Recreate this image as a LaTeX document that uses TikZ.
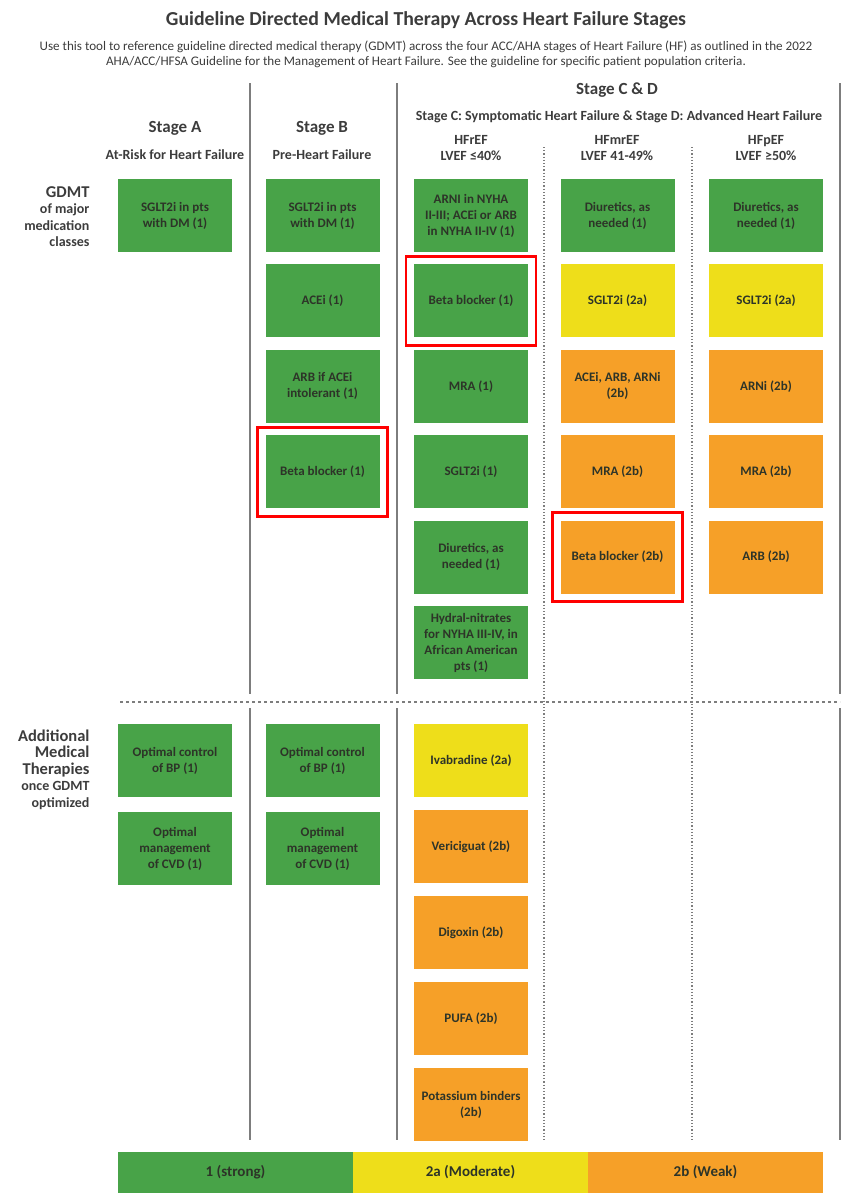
\documentclass[tikz,border=0pt]{standalone}
\usepackage{fontspec}
\setmainfont{Carlito}
\usetikzlibrary{positioning,fit}

\definecolor{strong}{RGB}{72,163,72}
\definecolor{moderate}{RGB}{238,222,26}
\definecolor{weak}{RGB}{246,160,40}
\definecolor{ink}{RGB}{45,52,40}
\definecolor{rulegray}{RGB}{125,125,125}
\definecolor{headgray}{RGB}{60,60,60}

\begin{document}
\begin{tikzpicture}[x=1pt,y=-1pt,
        box/.style={minimum width=114pt,minimum height=73pt,inner sep=0pt,
            outer sep=0pt,align=center,text=ink,
            font=\fontsize{13}{16}\selectfont\bfseries},
        one/.style={box,fill=strong},
        twoa/.style={box,fill=moderate},
        twob/.style={box,fill=weak},
        hl/.style={draw=red,line width=2.6pt,inner sep=8pt},
        stage/.style={text=headgray,font=\fontsize{17}{20}\selectfont\bfseries},
        sub/.style={text=headgray,align=center,
            font=\fontsize{14}{16}\selectfont\bfseries},
        rowlab/.style={text=headgray,align=right,anchor=north east,
            font=\fontsize{14}{16.5}\selectfont\bfseries},
        legend/.style={minimum width=235pt,minimum height=41pt,inner sep=0pt,
            outer sep=0pt,text=ink,font=\fontsize{15}{17}\selectfont\bfseries},
        sep/.style={rulegray,line width=1.4pt},
        colsep/.style={rulegray,line width=1.2pt,dotted},
        rowsep/.style={rulegray,line width=1.2pt,dash pattern=on 3pt off 3pt}]

        \useasboundingbox (0,0) rectangle (848,1200);

        \def\d{12.4pt}
        \def\dd{13pt}

        % Title and intro
        \node[text=headgray,font=\fontsize{19.8}{23}\selectfont\bfseries] (title)
            at (426,20) {Guideline Directed Medical Therapy Across Heart Failure Stages};
        \node[text=headgray,align=center,font=\fontsize{13.1}{15.5}\selectfont] (intro)
            at (426,54.5) {Use this tool to reference guideline directed medical therapy (GDMT) across the four ACC/AHA stages of Heart Failure (HF) as outlined in the 2022\\
            AHA/ACC/HFSA Guideline for the Management of Heart Failure. See the guideline for specific patient population criteria.};

        % Column heads
        \node[stage] (SA) at (175,128) {Stage A};
        \node[sub] (SAt) at (175,155) {At-Risk for Heart Failure};
        \node[stage] (SB) at (322,128) {Stage B};
        \node[sub] (SBt) at (322,155) {Pre-Heart Failure};
        \node[stage] (SCD) at (617,90) {Stage C \& D};
        \node[sub] (SCDt) at (619,117)
            {Stage C: Symptomatic Heart Failure \& Stage D: Advanced Heart Failure};
        \node[sub] (HR) at (471,148) {HFrEF\\LVEF \char"2264 40\%};
        \node[sub] (HM) at (617,148) {HFmrEF\\LVEF 41-49\%};
        \node[sub] (HP) at (766,148) {HFpEF\\LVEF \char"2265 50\%};

        % Row heads
        \node[rowlab] (R1) at (93,183)
            {{\fontsize{16.5}{18}\selectfont GDMT}\\of major\\medication\\classes};
        \node[rowlab] (R2) at (93,726)
            {{\fontsize{16.5}{20}\selectfont Additional}\\{\fontsize{16.5}{20}\selectfont Medical}\\
            {\fontsize{16.5}{20}\selectfont Therapies}\\once GDMT\\optimized};

        % GDMT boxes
        \node[one] (A1) at (175,215.5) {SGLT2i in pts\\with DM (1)};

        \node[one] (B1) at (322.5,215.5) {SGLT2i in pts\\with DM (1)};
        \node[one] (B2) [below=\d of B1] {ACEi (1)};
        \node[one] (B3) [below=\d of B2] {ARB if ACEi\\intolerant (1)};
        \node[one] (B4) [below=\d of B3] {Beta blocker (1)};

        \node[one] (C1) at (471,215.5) {ARNI in NYHA\\II-III; ACEi or ARB\\in NYHA II-IV (1)};
        \node[one] (C2) [below=\d of C1] {Beta blocker (1)};
        \node[one] (C3) [below=\d of C2] {MRA (1)};
        \node[one] (C4) [below=\d of C3] {SGLT2i (1)};
        \node[one] (C5) [below=\d of C4] {Diuretics, as\\needed (1)};
        \node[one] (C6) [below=\d of C5]
            {Hydral-nitrates\\for NYHA III-IV, in\\African American\\pts (1)};

        \node[one] (M1) at (617.5,215.5) {Diuretics, as\\needed (1)};
        \node[twoa] (M2) [below=\d of M1] {SGLT2i (2a)};
        \node[twob] (M3) [below=\d of M2] {ACEi, ARB, ARNi\\(2b)};
        \node[twob] (M4) [below=\d of M3] {MRA (2b)};
        \node[twob] (M5) [below=\d of M4] {Beta blocker (2b)};

        \node[one] (P1) at (766,215.5) {Diuretics, as\\needed (1)};
        \node[twoa] (P2) [below=\d of P1] {SGLT2i (2a)};
        \node[twob] (P3) [below=\d of P2] {ARNi (2b)};
        \node[twob] (P4) [below=\d of P3] {MRA (2b)};
        \node[twob] (P5) [below=\d of P4] {ARB (2b)};

        % Additional therapy boxes
        \node[one] (A6) at (175,760.5) {Optimal control\\of BP (1)};
        \node[one] (A7) [below=15pt of A6] {Optimal\\management\\of CVD (1)};
        \node[one] (B6) at (322.5,760.5) {Optimal control\\of BP (1)};
        \node[one] (B7) [below=15pt of B6] {Optimal\\management\\of CVD (1)};

        \node[twoa] (D1) at (471,760.5) {Ivabradine (2a)};
        \node[twob] (D2) [below=\dd of D1] {Vericiguat (2b)};
        \node[twob] (D3) [below=\dd of D2] {Digoxin (2b)};
        \node[twob] (D4) [below=\dd of D3] {PUFA (2b)};
        \node[twob] (D5) [below=\dd of D4] {Potassium binders\\(2b)};

        % Highlights
        \node[hl,fit=(B4)] (H1) {};
        \node[hl,fit=(C2)] (H2) {};
        \node[hl,fit=(M5)] (H3) {};

        % Separators
        \foreach\x in {250,397,840} {
            \draw[sep] (\x,83) -- (\x,694);
            \draw[sep] (\x,708) -- (\x,1140);
        }
        \foreach\x in {544,692}
            \draw[colsep] (\x,147) -- (\x,1140);
        \draw[rowsep] (120,702) -- (840,702);

        % Legend
        \node[legend,fill=strong] (L1) at (235.5,1172.5) {1 (strong)};
        \node[legend,fill=moderate] (L2) [right=0pt of L1] {2a (Moderate)};
        \node[legend,fill=weak] (L3) [right=0pt of L2] {2b (Weak)};

\end{tikzpicture}
\end{document}
